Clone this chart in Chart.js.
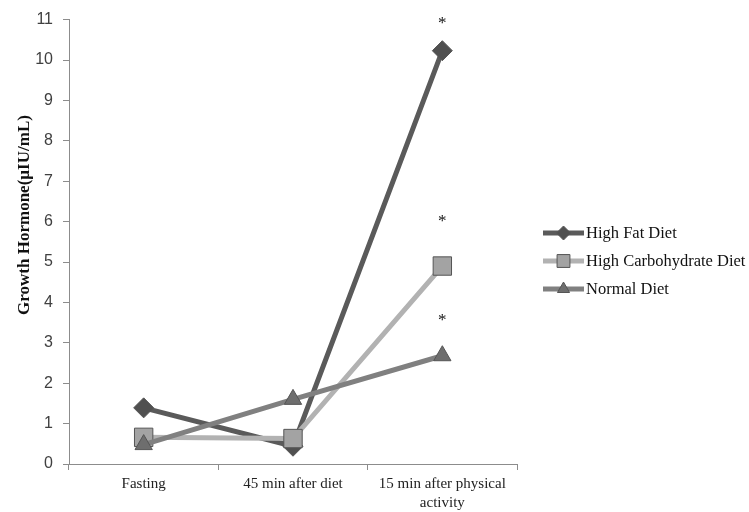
<!DOCTYPE html>
<html><head><meta charset="utf-8">
<script src="https://cdn.jsdelivr.net/npm/chart.js@4"></script>
<style>html,body{margin:0;padding:0;background:#fff}</style>
</head><body>
<canvas id="c" width="749" height="512" style="width:749px;height:512px;display:block"></canvas>
<script>
const categories = ['Fasting', '45 min after diet', ['15 min after physical', 'activity']];
const seriesNames = ['High Fat Diet', 'High Carbohydrate Diet', 'Normal Diet'];
const highFat = [1.39, 0.44, 10.23];
const highCarb = [0.66, 0.63, 4.9];
const normalDiet = [0.48, 1.6, 2.68];
const yMin = 0, yMax = 11, yStep = 1;
const yTitle = 'Growth Hormone(\u00b5IU/mL)';
// significance asterisks at the last category (value positions)
const starCategory = 2;
const starValues = [10.95, 6.05, 3.6];

const lineColors = ['#5a5a5a', '#b2b2b2', '#808080'];
const pointFills = ['#505050', '#a3a3a3', '#6e6e6e'];
const pointStyles = ['rectRot', 'rect', 'triangle'];
const pointRadii = [10, 13, 10];
const drawOrder = [2, 1, 0];
const allSeries = [highFat, highCarb, normalDiet];

const serif = "'Liberation Serif', 'DejaVu Serif', serif";
const sans = "'Liberation Sans', 'DejaVu Sans', sans-serif";

const starPlugin = {
  id: 'stars',
  afterDatasetsDraw(chart) {
    const ctx = chart.ctx, x = chart.scales.x, y = chart.scales.y;
    ctx.save();
    ctx.fillStyle = '#111';
    ctx.font = '17px ' + serif;
    ctx.textAlign = 'center';
    ctx.textBaseline = 'middle';
    starValues.forEach(v => {
      ctx.fillText('*', x.getPixelForValue(starCategory), y.getPixelForValue(v) + 2);
    });
    ctx.restore();
  }
};

const titlePlugin = {
  id: 'yTitle',
  afterDraw(chart) {
    const ctx = chart.ctx;
    ctx.save();
    ctx.translate(25, 215);
    ctx.rotate(-Math.PI / 2);
    ctx.fillStyle = '#111';
    ctx.font = 'bold 17px ' + serif;
    ctx.textAlign = 'center';
    ctx.textBaseline = 'middle';
    ctx.fillText(yTitle, 0, 0);
    ctx.restore();
  }
};

const legendPlugin = {
  id: 'customLegend',
  afterDraw(chart) {
    const ctx = chart.ctx;
    const x0 = 543, x1 = 584, textX = 586;
    const rowsY = [233, 261, 289];
    ctx.save();
    chart.data.datasets.forEach((ds, i) => {
      const yy = rowsY[i];
      ctx.strokeStyle = ds.borderColor;
      ctx.lineWidth = 5;
      ctx.lineCap = 'butt';
      ctx.beginPath(); ctx.moveTo(x0, yy); ctx.lineTo(x1, yy); ctx.stroke();
      ctx.fillStyle = ds.pointBackgroundColor;
      ctx.strokeStyle = ds.pointBorderColor;
      ctx.lineWidth = 1;
      Chart.helpers.drawPoint(ctx, {pointStyle: ds.pointStyle, rotation: 0, borderWidth: 1, radius: ds.pointRadius * 0.7}, (x0 + x1) / 2, yy);
      ctx.fillStyle = '#111';
      ctx.font = '16.5px ' + serif;
      ctx.textAlign = 'left';
      ctx.textBaseline = 'middle';
      ctx.fillText(ds.label, textX, yy + 1);
    });
    ctx.restore();
  }
};

new Chart(document.getElementById('c'), {
  type: 'line',
  data: {
    labels: categories,
    datasets: allSeries.map((d, i) => ({
      label: seriesNames[i],
      data: d,
      order: drawOrder[i],
      borderColor: lineColors[i],
      borderWidth: 5,
      tension: 0,
      pointStyle: pointStyles[i],
      pointRadius: pointRadii[i],
      pointHoverRadius: pointRadii[i],
      pointBackgroundColor: pointFills[i],
      pointBorderColor: '#555',
      pointBorderWidth: 1
    }))
  },
  options: {
    responsive: false,
    animation: false,
    maintainAspectRatio: false,
    layout: {padding: {left: 6, right: 232, top: 17, bottom: 0}},
    plugins: {legend: {display: false}, tooltip: {enabled: false}},
    scales: {
      x: {
        offset: true,
        grid: {offset: true, drawOnChartArea: false, drawTicks: true, tickLength: 6, color: '#8c8c8c'},
        border: {color: '#8c8c8c', width: 1},
        ticks: {color: '#222', font: {family: serif, size: 15, lineHeight: 1.25}, padding: 5, maxRotation: 0, autoSkip: false},
        afterFit(s) { s.height = 48; }
      },
      y: {
        min: yMin, max: yMax,
        ticks: {stepSize: yStep, color: '#404040', font: {family: sans, size: 16}, padding: 10},
        grid: {drawOnChartArea: false, drawTicks: true, tickLength: 6, color: '#8c8c8c'},
        border: {color: '#8c8c8c', width: 1},
        title: {display: false},
        afterFit(s) { s.width = 63; }
      }
    }
  },
  plugins: [starPlugin, titlePlugin, legendPlugin]
});
</script>
</body></html>
